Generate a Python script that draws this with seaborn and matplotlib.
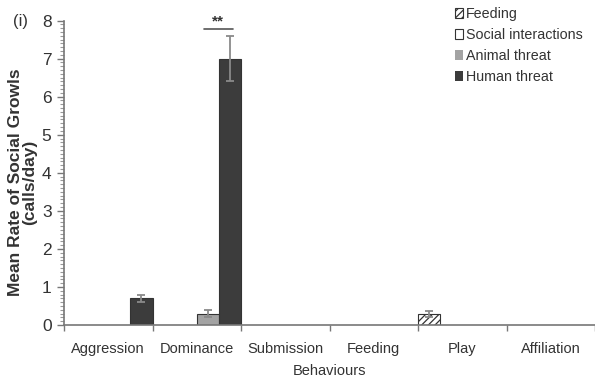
import numpy as np
import pandas as pd
import matplotlib
matplotlib.use("Agg")
import matplotlib.pyplot as plt
import seaborn as sns
from matplotlib.ticker import MultipleLocator, FixedLocator
from matplotlib.patches import Patch

behaviours = ["Aggression", "Dominance", "Submission", "Feeding", "Play", "Affiliation"]
contexts = ["Feeding", "Social interactions", "Animal threat", "Human threat"]

# mean social growl rate (calls/day) per behaviour, one list per context
feeding = [0.0, 0.0, 0.0, 0.0, 0.3, 0.0]
social = [0.0, 0.0, 0.0, 0.0, 0.0, 0.0]
animal = [0.0, 0.3, 0.0, 0.0, 0.0, 0.0]
human = [0.7, 7.0, 0.0, 0.0, 0.0, 0.0]

# standard errors
feeding_se = [0.0, 0.0, 0.0, 0.0, 0.08, 0.0]
social_se = [0.0, 0.0, 0.0, 0.0, 0.0, 0.0]
animal_se = [0.0, 0.1, 0.0, 0.0, 0.0, 0.0]
human_se = [0.1, 0.6, 0.0, 0.0, 0.0, 0.0]

values = [feeding, social, animal, human]
errors = [feeding_se, social_se, animal_se, human_se]

rows = []
for ctx, vals in zip(contexts, values):
    for b, v in zip(behaviours, vals):
        rows.append({"Behaviour": b, "Context": ctx, "Rate": v})
df = pd.DataFrame(rows)

sns.set_style("white")
plt.rcParams["font.family"] = ["Liberation Sans", "DejaVu Sans"]
plt.rcParams["hatch.color"] = "#333333"
plt.rcParams["hatch.linewidth"] = 0.9

fills = {"Feeding": "white", "Social interactions": "white",
         "Animal threat": "#a3a3a3", "Human threat": "#3c3c3c"}
hatches = {"Feeding": "/////", "Social interactions": "",
           "Animal threat": "", "Human threat": ""}

fig = plt.figure(figsize=(5.95, 3.87), dpi=100)
ax = fig.add_axes([0.1076, 0.160, 0.8924, 0.787])

sns.barplot(data=df, x="Behaviour", y="Rate", hue="Context",
            order=behaviours, hue_order=contexts, palette=fills,
            width=1.0, errorbar=None, legend=False, ax=ax)

for ctx, cont, errs in zip(contexts, ax.containers, errors):
    for bar, err in zip(cont, errs):
        h = bar.get_height()
        bar.set_hatch(hatches[ctx])
        if h > 0:
            bar.set_edgecolor("#333333")
            bar.set_linewidth(0.8)
        else:
            bar.set_linewidth(0)
        if err > 0:
            cx = bar.get_x() + bar.get_width() / 2
            ax.errorbar(cx, h, yerr=err, fmt="none", ecolor="#8a8a8a",
                        elinewidth=1.3, capsize=3, capthick=1.3, zorder=3)

ax.set_ylim(0, 8)
ax.set_xlim(-0.5, 5.5)
ax.yaxis.set_major_locator(MultipleLocator(1))
ax.yaxis.set_minor_locator(MultipleLocator(0.1))
ax.tick_params(axis="y", which="major", left=True, length=5, width=1,
               color="#777777", labelsize=12.5, labelcolor="#333333", pad=4)
ax.tick_params(axis="y", which="minor", left=True, length=3, width=0.8,
               color="#999999")
ax.xaxis.set_minor_locator(FixedLocator(np.arange(-0.5, 6, 1.0)))
ax.tick_params(axis="x", which="major", bottom=False, length=0,
               labelsize=10.5, labelcolor="#333333", pad=12)
ax.tick_params(axis="x", which="minor", bottom=True, length=4, width=1,
               color="#777777")

for s in ["top", "right"]:
    ax.spines[s].set_visible(False)
for s in ["left", "bottom"]:
    ax.spines[s].set_color("#777777")
    ax.spines[s].set_linewidth(1.2)

ax.set_xlabel("Behaviours", fontsize=10.5, color="#333333", labelpad=6)
ax.set_ylabel("Mean Rate of Social Growls\n(calls/day)", fontsize=12.5,
              color="#333333", fontweight="bold", linespacing=0.95)
ax.yaxis.set_label_coords(-0.051, 0.47)

# significance marker over the dominance bars
ax.plot([1.08, 1.41], [7.77, 7.77], color="#555555", lw=1.2)
ax.text(1.245, 7.8, "**", ha="center", va="bottom", fontsize=11,
        fontweight="bold", color="#333333")

fig.text(0.022, 0.945, "(i)", fontsize=12, color="#333333", va="center")

handles = [Patch(facecolor=fills[c], edgecolor="#333333", hatch=hatches[c],
                 linewidth=0.8 if fills[c] == "white" else 0)
           for c in contexts]
leg = fig.legend(handles, contexts, loc="upper left",
                 bbox_to_anchor=(0.752, 1.0), frameon=False, fontsize=10.3,
                 handlelength=0.6, handleheight=0.7, handletextpad=0.2,
                 labelspacing=0.48, borderaxespad=0.2, borderpad=0.3)
for t in leg.get_texts():
    t.set_color("#333333")

fig.savefig("out.png", dpi=100)
